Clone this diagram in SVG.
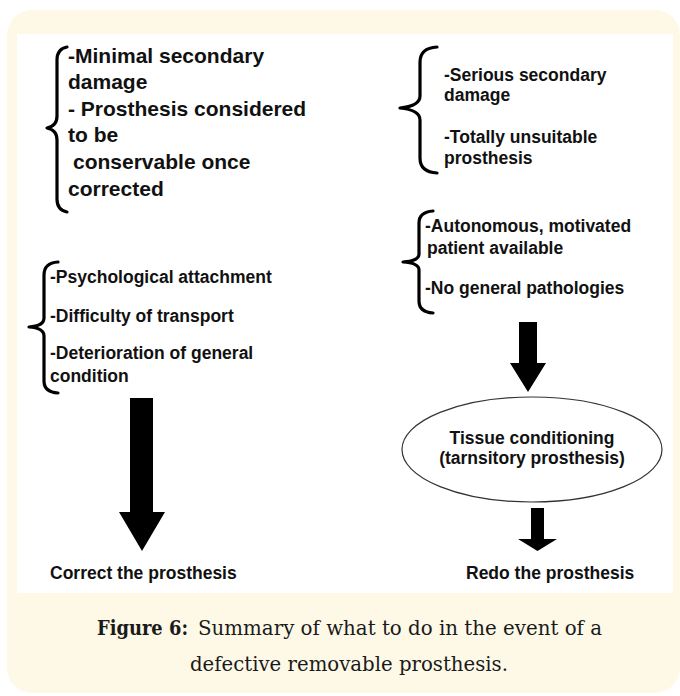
<svg xmlns="http://www.w3.org/2000/svg" width="680" height="696" viewBox="0 0 680 696">
<defs>
<style>
.t{font-family:"Liberation Sans",Arial,sans-serif;font-weight:bold;font-size:17.5px;fill:#111}
.big{font-size:21px}
.brace{fill:none;stroke:#000;stroke-width:3.2;stroke-linecap:round;stroke-linejoin:round}
.arrow{fill:#000}
.cap{font-family:"DejaVu Serif","Liberation Serif",serif;font-size:19.5px;fill:#1a1a1a}
</style>
</defs>
<rect x="7" y="10" width="673" height="683" rx="25" fill="#fef9e7"/>
<rect x="17" y="34" width="656" height="559" fill="#ffffff"/>

<g id="node-minimal">
<path class="brace" d="M67,47 Q57,49 57,60 L57,116 Q57,126 47,128 Q57,130 57,140 L57,199 Q57,210 67,212"/>
<text class="t big" x="68" y="63">-Minimal secondary</text>
<text class="t big" x="68" y="89">damage</text>
<text class="t big" x="68" y="116">- Prosthesis considered</text>
<text class="t big" x="68" y="142">to be</text>
<text class="t big" x="73" y="169">conservable once</text>
<text class="t big" x="68" y="196">corrected</text>
</g>

<g id="node-serious">
<path class="brace" d="M437,47 Q420,48 420,62 L420,96 Q420,106 400,108 Q420,110 420,120 L420,158 Q420,172 437,173"/>
<text class="t" x="444" y="81">-Serious secondary</text>
<text class="t" x="444" y="101">damage</text>
<text class="t" x="444" y="143">-Totally unsuitable</text>
<text class="t" x="444" y="164">prosthesis</text>
</g>

<g id="node-psych">
<path class="brace" d="M58,262 Q44,263 44,275 L44,318 Q44,326 29,327 Q44,328 44,336 L44,381 Q44,392 58,393"/>
<text class="t" x="50" y="283">-Psychological attachment</text>
<text class="t" x="50" y="322">-Difficulty of transport</text>
<text class="t" x="50" y="359">-Deterioration of general</text>
<text class="t" x="50" y="382">condition</text>
</g>

<g id="node-autonomous">
<path class="brace" d="M433,211 Q419,212 419,223 L419,254 Q419,261 403,262 Q419,263 419,270 L419,301 Q419,312 433,313"/>
<text class="t" x="425" y="232">-Autonomous, motivated</text>
<text class="t" x="427" y="254">patient available</text>
<text class="t" x="425" y="294">-No general pathologies</text>
</g>

<g id="node-tissue">
<ellipse cx="532" cy="449.5" rx="130" ry="52.5" fill="#fff" stroke="#333" stroke-width="1.2"/>
<text class="t" x="532" y="444" text-anchor="middle">Tissue conditioning</text>
<text class="t" x="532" y="464" text-anchor="middle">(tarnsitory prosthesis)</text>
</g>

<g id="node-correct">
<text class="t" x="50" y="579">Correct the prosthesis</text>
</g>

<g id="node-redo">
<text class="t" x="466" y="579">Redo the prosthesis</text>
</g>

<g id="connectors">
<polygon class="arrow" points="130,398 153,398 153,512 165,512 142,551 119,512 130,512"/>
<polygon class="arrow" points="519,322 537,322 537,363 546,363 528,392 510,363 519,363"/>
<polygon class="arrow" points="531,508 544,508 544,539 557,539 537.5,551 518,539 531,539"/>
</g>

<g id="caption">
<text class="cap" x="97" y="635" font-weight="bold" textLength="91" lengthAdjust="spacingAndGlyphs">Figure 6:</text>
<text class="cap" x="198" y="635" textLength="404" lengthAdjust="spacingAndGlyphs">Summary of what to do in the event of a</text>
<text class="cap" x="190" y="671" textLength="318" lengthAdjust="spacingAndGlyphs">defective removable prosthesis.</text>
</g>
</svg>
